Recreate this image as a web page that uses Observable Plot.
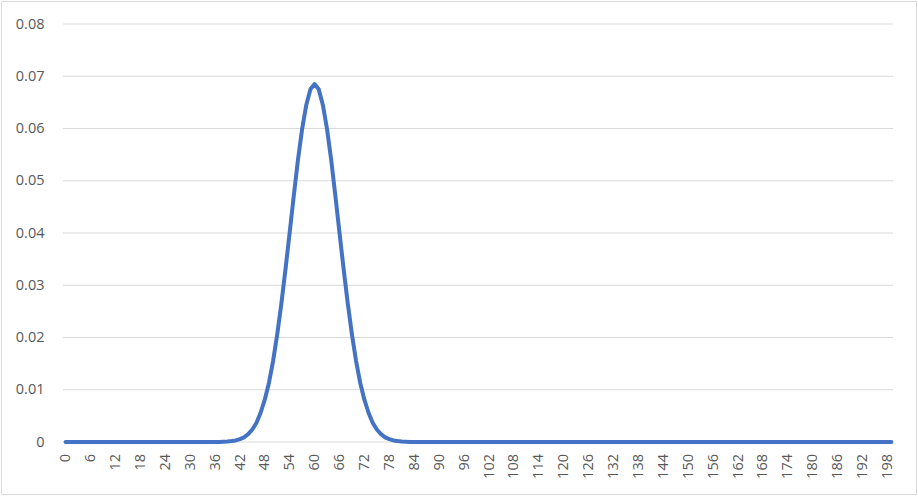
<!DOCTYPE html>
<html>
<head>
<meta charset="utf-8">
<script src="https://cdn.jsdelivr.net/npm/d3@7"></script>
<script src="https://cdn.jsdelivr.net/npm/@observablehq/plot@0.6"></script>
<style>
  html, body { margin: 0; padding: 0; background: #fff; }
  #chart svg { display: block; outline: 1px solid #d9d9d9; outline-offset: -2px; }
  #chart svg text { font-family: 'Open Sans', sans-serif !important; font-size: 14.5px !important; }
</style>
</head>
<body>
<div id="chart"></div>
<script>
// Categories 0..199 (x axis)
const categories = d3.range(200);

// Probability values, one per category (0..199)
const probabilities = [
  0, 0, 0, 0, 0, 0, 0, 0, 0, 0,
  0, 0, 0, 0, 0, 0, 0, 0, 0, 0,
  0, 0, 0, 0, 0, 0, 0, 0, 0, 0,
  0, 0, 0, 0, 0, 0, 0, 0, 0.00005, 0.0001,
  0.00018, 0.0003, 0.00055, 0.0009, 0.0015, 0.0024, 0.0037, 0.0056, 0.0081, 0.0113,
  0.0155, 0.0206, 0.0265, 0.0331, 0.0401, 0.0472, 0.0540, 0.0599, 0.0645, 0.0675,
  0.0685, 0.0675, 0.0645, 0.0599, 0.0540, 0.0472, 0.0401, 0.0331, 0.0265, 0.0206,
  0.0155, 0.0113, 0.0081, 0.0056, 0.0037, 0.0024, 0.0015, 0.0009, 0.00055, 0.0003,
  0.00018, 0.0001, 0.00005, 0, 0, 0, 0, 0, 0, 0,
  0, 0, 0, 0, 0, 0, 0, 0, 0, 0,
  0, 0, 0, 0, 0, 0, 0, 0, 0, 0,
  0, 0, 0, 0, 0, 0, 0, 0, 0, 0,
  0, 0, 0, 0, 0, 0, 0, 0, 0, 0,
  0, 0, 0, 0, 0, 0, 0, 0, 0, 0,
  0, 0, 0, 0, 0, 0, 0, 0, 0, 0,
  0, 0, 0, 0, 0, 0, 0, 0, 0, 0,
  0, 0, 0, 0, 0, 0, 0, 0, 0, 0,
  0, 0, 0, 0, 0, 0, 0, 0, 0, 0,
  0, 0, 0, 0, 0, 0, 0, 0, 0, 0,
  0, 0, 0, 0, 0, 0, 0, 0, 0, 0
];

// Tick labels
const xTicks = [0, 6, 12, 18, 24, 30, 36, 42, 48, 54, 60, 66, 72, 78, 84, 90, 96, 102, 108, 114,
                120, 126, 132, 138, 144, 150, 156, 162, 168, 174, 180, 186, 192, 198];
const yTicks = [0, 0.01, 0.02, 0.03, 0.04, 0.05, 0.06, 0.07, 0.08];

const data = categories.map((k, i) => ({k, p: probabilities[i]}));

const chart = Plot.plot({
  width: 918,
  height: 496,
  marginLeft: 63,
  marginRight: 25,
  marginTop: 23.5,
  marginBottom: 54.5,
  style: {fontFamily: "'Open Sans', sans-serif", fontSize: "14.5px", color: "#595959", background: "#fff"},
  x: {type: "linear", domain: [-0.5, 199.5]},
  y: {domain: [0, 0.08]},
  marks: [
    Plot.gridY(yTicks, {stroke: "#d9d9d9", strokeOpacity: 1, strokeWidth: 1}),
    Plot.axisY(yTicks, {tickSize: 0, tickPadding: 19, tickFormat: d => String(d), label: null, fill: "#595959"}),
    Plot.axisX(xTicks, {tickSize: 0, tickPadding: 12, tickRotate: -90, tickFormat: d => String(d), label: null, fill: "#595959"}),
    Plot.lineY(data, {x: "k", y: "p", stroke: "#4472C4", strokeWidth: 4, strokeLinejoin: "round", strokeLinecap: "round"})
  ]
});
document.getElementById("chart").appendChild(chart);
</script>
</body>
</html>
